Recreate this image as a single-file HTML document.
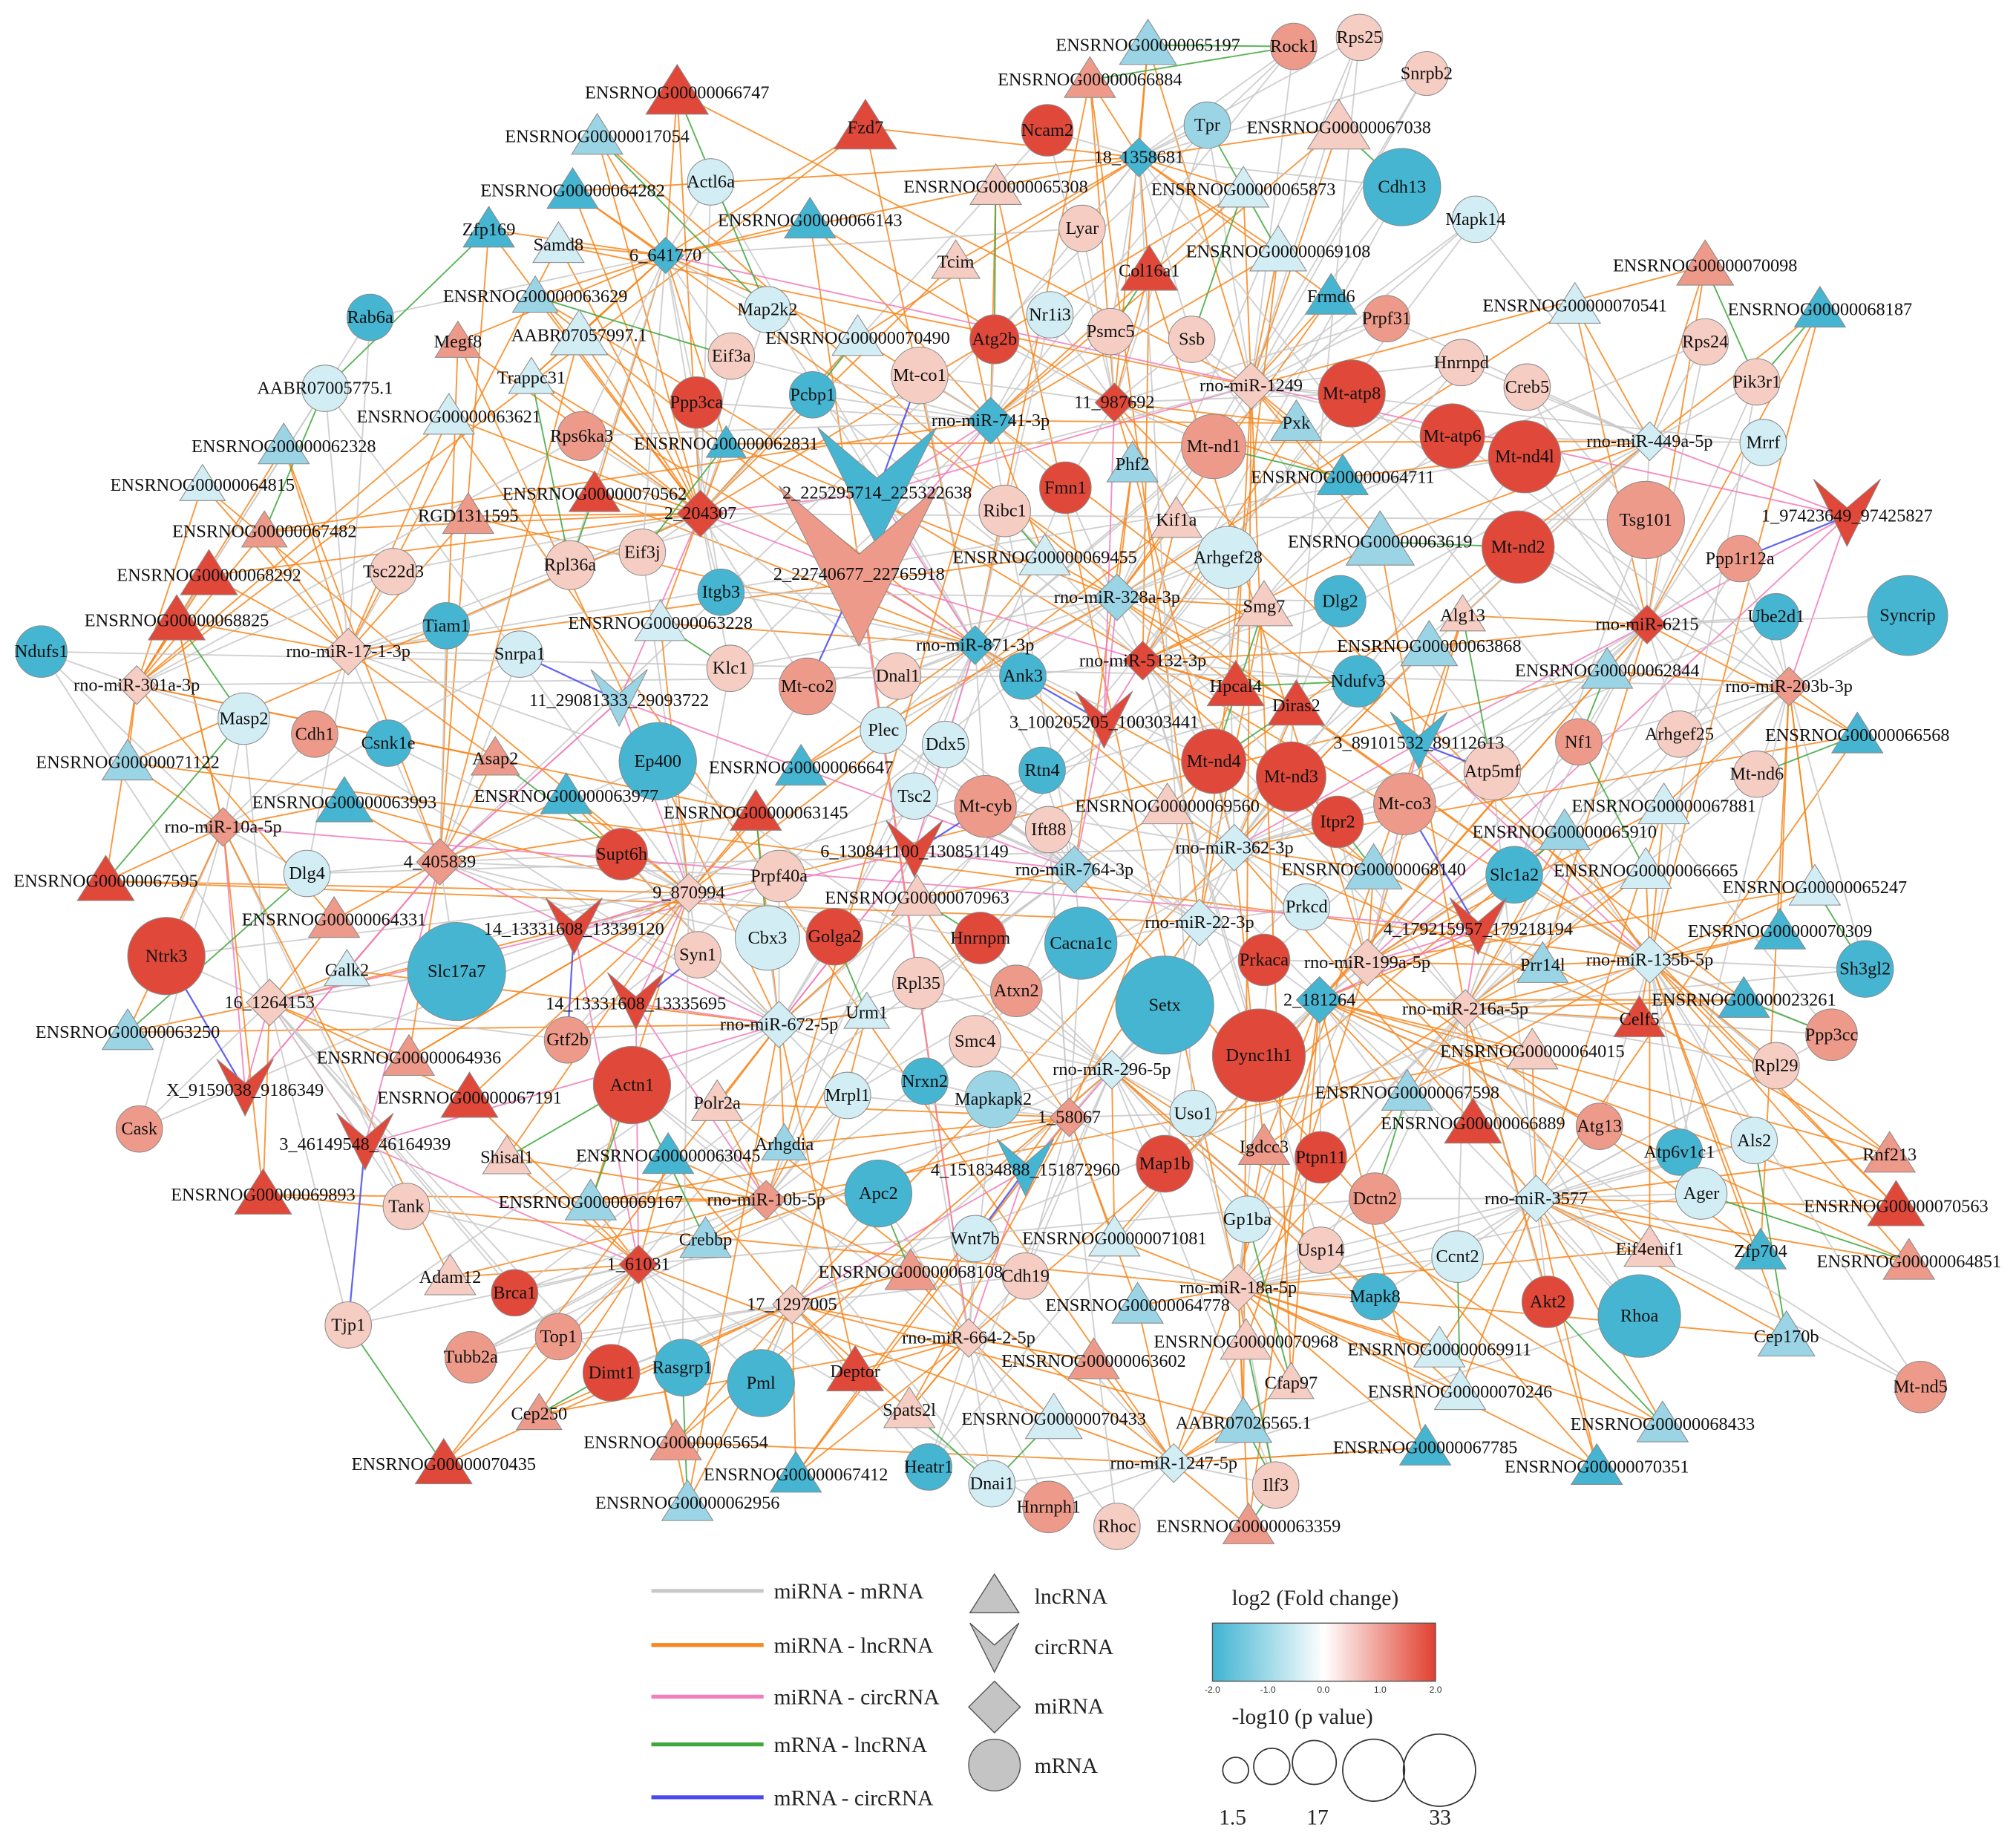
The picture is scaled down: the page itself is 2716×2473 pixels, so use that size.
<!DOCTYPE html>
<html><head><meta charset="utf-8">
<style>
html,body{margin:0;padding:0;background:#fff;}
svg{display:block;}
#labels text{font-family:"Liberation Serif",serif;font-size:14px;fill:#111;text-anchor:middle;dominant-baseline:central;}
.lg{font-family:"Liberation Serif",serif;font-size:17px;fill:#222;}
</style></head>
<body>
<svg id="s" width="2716" height="2473" viewBox="0 0 1563 1423" preserveAspectRatio="none" xmlns="http://www.w3.org/2000/svg">
<defs>
<linearGradient id="gr" x1="0" x2="1" y1="0" y2="0">
<stop offset="0" stop-color="#3fb4d2"/><stop offset="0.5" stop-color="#ffffff"/><stop offset="1" stop-color="#e0402f"/>
</linearGradient>
</defs>
<g id="edges"></g>
<g id="nodes"></g>
<g id="labels">
<text x="890" y="35" class="t b s20">ENSRNOG00000065197</text>
<text x="1003" y="36" class="c r s18">Rock1</text>
<text x="1054" y="29" class="c p s18">Rps25</text>
<text x="1106" y="57" class="c p s17">Snrpb2</text>
<text x="525" y="72" class="t R s22">ENSRNOG00000066747</text>
<text x="845" y="62" class="t r s18">ENSRNOG00000066884</text>
<text x="812" y="101" class="c R s20">Ncam2</text>
<text x="936" y="97" class="c b s18">Tpr</text>
<text x="1038" y="99" class="t p s22">ENSRNOG00000067038</text>
<text x="671" y="99" class="t R s22">Fzd7</text>
<text x="463" y="106" class="t b s18">ENSRNOG00000017054</text>
<text x="883" y="122" class="d B s15">18_1358681</text>
<text x="551" y="141" class="c q s18">Actl6a</text>
<text x="1087" y="145" class="c B s30">Cdh13</text>
<text x="772" y="145" class="t p s18">ENSRNOG00000065308</text>
<text x="964" y="147" class="t q s18">ENSRNOG00000065873</text>
<text x="444" y="148" class="t B s18">ENSRNOG00000064282</text>
<text x="839" y="177" class="c p s18">Lyar</text>
<text x="1144" y="170" class="c q s18">Mapk14</text>
<text x="379" y="178" class="t B s18">Zfp169</text>
<text x="628" y="171" class="t B s18">ENSRNOG00000066143</text>
<text x="433" y="190" class="t q s18">Samd8</text>
<text x="516" y="198" class="d B s14">6_641770</text>
<text x="741" y="203" class="t p s17">Tcim</text>
<text x="891" y="210" class="t R s20">Col16a1</text>
<text x="991" y="195" class="t q s20">ENSRNOG00000069108</text>
<text x="1322" y="206" class="t r s20">ENSRNOG00000070098</text>
<text x="415" y="230" class="t b s16">ENSRNOG00000063629</text>
<text x="595" y="240" class="c q s18">Map2k2</text>
<text x="814" y="244" class="c q s18">Nr1i3</text>
<text x="1032" y="230" class="t B s18">Frmd6</text>
<text x="1221" y="237" class="t q s18">ENSRNOG00000070541</text>
<text x="1411" y="240" class="t B s18">ENSRNOG00000068187</text>
<text x="287" y="246" class="c B s18">Rab6a</text>
<text x="355" y="265" class="t r s16">Megf8</text>
<text x="449" y="260" class="t q s20">AABR07057997.1</text>
<text x="567" y="276" class="c p s18">Eif3a</text>
<text x="665" y="262" class="t q s18">ENSRNOG00000070490</text>
<text x="771" y="263" class="c R s19">Atg2b</text>
<text x="861" y="257" class="c p s18">Psmc5</text>
<text x="924" y="263" class="c p s18">Ssb</text>
<text x="1075" y="247" class="c r s18">Prpf31</text>
<text x="1322" y="265" class="c p s18">Rps24</text>
<text x="252" y="301" class="c q s18">AABR07005775.1</text>
<text x="412" y="293" class="t q s16">Trappc31</text>
<text x="713" y="291" class="c p s22">Mt-co1</text>
<text x="1133" y="281" class="c p s18">Hnrnpd</text>
<text x="1362" y="296" class="c p s18">Pik3r1</text>
<text x="1184" y="300" class="c p s18">Creb5</text>
<text x="348" y="323" class="t q s18">ENSRNOG00000063621</text>
<text x="540" y="312" class="c R s20">Ppp3ca</text>
<text x="630" y="306" class="c B s18">Pcbp1</text>
<text x="864" y="312" class="d R s15">11_987692</text>
<text x="970" y="299" class="d p s18">rno-miR-1249</text>
<text x="1048" y="305" class="c R s26">Mt-atp8</text>
<text x="1279" y="342" class="d q s15">rno-miR-449a-5p</text>
<text x="1367" y="343" class="c q s18">Mrrf</text>
<text x="220" y="346" class="t b s18">ENSRNOG00000062328</text>
<text x="451" y="338" class="c r s19">Rps6ka3</text>
<text x="563" y="344" class="t B s14">ENSRNOG00000062831</text>
<text x="768" y="326" class="d B s18">rno-miR-741-3p</text>
<text x="941" y="346" class="c r s25">Mt-nd1</text>
<text x="1005" y="328" class="t b s18">Pxk</text>
<text x="1126" y="338" class="c R s25">Mt-atp6</text>
<text x="1182" y="354" class="c R s28">Mt-nd4l</text>
<text x="157" y="376" class="t q s16">ENSRNOG00000064815</text>
<text x="680" y="382" class="v B s46">2_225295714_225322638</text>
<text x="826" y="378" class="c R s20">Fmn1</text>
<text x="878" y="360" class="t b s18">Phf2</text>
<text x="1041" y="370" class="t B s18">ENSRNOG00000064711</text>
<text x="1276" y="403" class="c r s30">Tsg101</text>
<text x="1432" y="400" class="v R s26">1_97423649_97425827</text>
<text x="205" y="412" class="t r s16">ENSRNOG00000067482</text>
<text x="363" y="400" class="t r s18">RGD1311595</text>
<text x="461" y="383" class="t R s18">ENSRNOG00000070562</text>
<text x="543" y="398" class="d R s18">2_204307</text>
<text x="779" y="396" class="c p s20">Ribc1</text>
<text x="912" y="403" class="t p s18">Kif1a</text>
<text x="952" y="432" class="c q s24">Arhgef28</text>
<text x="1070" y="420" class="t b s24">ENSRNOG00000063619</text>
<text x="1177" y="424" class="c R s28">Mt-nd2</text>
<text x="1349" y="433" class="c r s18">Ppp1r12a</text>
<text x="162" y="446" class="t R s20">ENSRNOG00000068292</text>
<text x="305" y="443" class="c p s18">Tsc22d3</text>
<text x="442" y="438" class="c p s19">Rpl36a</text>
<text x="498" y="428" class="c p s18">Eif3j</text>
<text x="810" y="432" class="t q s18">ENSRNOG00000069455</text>
<text x="666" y="445" class="v r s62">2_22740677_22765918</text>
<text x="866" y="463" class="d b s18">rno-miR-328a-3p</text>
<text x="980" y="470" class="t p s20">Smg7</text>
<text x="1039" y="466" class="c B s20">Dlg2</text>
<text x="1134" y="477" class="t p s16">Alg13</text>
<text x="1479" y="477" class="c B s31">Syncrip</text>
<text x="1377" y="478" class="c B s18">Ube2d1</text>
<text x="137" y="481" class="t R s20">ENSRNOG00000068825</text>
<text x="346" y="485" class="c B s18">Tiam1</text>
<text x="559" y="459" class="c B s18">Itgb3</text>
<text x="512" y="483" class="t q s18">ENSRNOG00000063228</text>
<text x="270" y="505" class="d p s18">rno-miR-17-1-3p</text>
<text x="32" y="505" class="c B s20">Ndufs1</text>
<text x="403" y="507" class="c q s18">Snrpa1</text>
<text x="756" y="500" class="d B s15">rno-miR-871-3p</text>
<text x="886" y="512" class="d R s15">rno-miR-5132-3p</text>
<text x="958" y="532" class="t R s20">Hpcal4</text>
<text x="1108" y="501" class="t b s20">ENSRNOG00000063868</text>
<text x="1277" y="484" class="d R s15">rno-miR-6215</text>
<text x="1246" y="520" class="t b s18">ENSRNOG00000062844</text>
<text x="1387" y="532" class="d r s15">rno-miR-203b-3p</text>
<text x="106" y="531" class="d p s15">rno-miR-301a-3p</text>
<text x="566" y="518" class="c p s18">Klc1</text>
<text x="626" y="532" class="c r s22">Mt-co2</text>
<text x="696" y="524" class="c p s18">Dnal1</text>
<text x="793" y="524" class="c B s18">Ank3</text>
<text x="480" y="543" class="v b s22">11_29081333_29093722</text>
<text x="1005" y="547" class="t R s20">Diras2</text>
<text x="1053" y="528" class="c B s20">Ndufv3</text>
<text x="856" y="560" class="v R s22">3_100205205_100303441</text>
<text x="189" y="557" class="c q s20">Masp2</text>
<text x="244" y="569" class="c r s18">Cdh1</text>
<text x="301" y="576" class="c B s18">Csnk1e</text>
<text x="510" y="590" class="c B s30">Ep400</text>
<text x="685" y="566" class="c q s18">Plec</text>
<text x="733" y="577" class="c q s18">Ddx5</text>
<text x="808" y="597" class="c B s18">Rtn4</text>
<text x="941" y="590" class="c R s25">Mt-nd4</text>
<text x="1001" y="602" class="c R s27">Mt-nd3</text>
<text x="1100" y="576" class="v B s22">3_89101532_89112613</text>
<text x="1157" y="598" class="c p s22">Atp5mf</text>
<text x="1224" y="575" class="c r s18">Nf1</text>
<text x="1302" y="569" class="c p s18">Arhgef25</text>
<text x="1440" y="570" class="t B s18">ENSRNOG00000066568</text>
<text x="99" y="591" class="t b s18">ENSRNOG00000071122</text>
<text x="384" y="588" class="t r s17">Asap2</text>
<text x="621" y="595" class="t B s18">ENSRNOG00000066647</text>
<text x="1362" y="600" class="c p s18">Mt-nd6</text>
<text x="267" y="622" class="t B s20">ENSRNOG00000063993</text>
<text x="439" y="617" class="t B s18">ENSRNOG00000063977</text>
<text x="709" y="617" class="c q s18">Tsc2</text>
<text x="764" y="625" class="c r s24">Mt-cyb</text>
<text x="905" y="625" class="t p s18">ENSRNOG00000069560</text>
<text x="1089" y="623" class="c r s24">Mt-co3</text>
<text x="1290" y="625" class="t q s18">ENSRNOG00000067881</text>
<text x="586" y="630" class="t R s18">ENSRNOG00000063145</text>
<text x="173" y="641" class="d r s15">rno-miR-10a-5p</text>
<text x="813" y="643" class="c p s18">Ift88</text>
<text x="1037" y="637" class="c R s20">Itpr2</text>
<text x="1213" y="645" class="t b s18">ENSRNOG00000065910</text>
<text x="482" y="662" class="c R s20">Supt6h</text>
<text x="341" y="668" class="d r s18">4_405839</text>
<text x="604" y="679" class="c p s20">Prpf40a</text>
<text x="709" y="660" class="v R s22">6_130841100_130851149</text>
<text x="957" y="657" class="d q s18">rno-miR-362-3p</text>
<text x="833" y="674" class="d b s18">rno-miR-764-3p</text>
<text x="1065" y="674" class="t b s20">ENSRNOG00000068140</text>
<text x="1174" y="678" class="c B s22">Slc1a2</text>
<text x="1276" y="675" class="t q s18">ENSRNOG00000066665</text>
<text x="1407" y="688" class="t q s18">ENSRNOG00000065247</text>
<text x="82" y="683" class="t R s20">ENSRNOG00000067595</text>
<text x="238" y="677" class="c q s18">Dlg4</text>
<text x="534" y="692" class="d p s15">9_870994</text>
<text x="711" y="696" class="t p s18">ENSRNOG00000070963</text>
<text x="1013" y="703" class="c q s18">Prkcd</text>
<text x="1380" y="722" class="t B s18">ENSRNOG00000070309</text>
<text x="259" y="713" class="t r s18">ENSRNOG00000064331</text>
<text x="129" y="741" class="c R s30">Ntrk3</text>
<text x="354" y="753" class="c B s38">Slc17a7</text>
<text x="445" y="720" class="v R s22">14_13331608_13339120</text>
<text x="595" y="727" class="c q s25">Cbx3</text>
<text x="647" y="726" class="c R s22">Golga2</text>
<text x="760" y="727" class="c R s20">Hnrnpm</text>
<text x="838" y="731" class="c B s28">Cacna1c</text>
<text x="930" y="715" class="d q s18">rno-miR-22-3p</text>
<text x="1146" y="720" class="v R s22">4_179215957_179218194</text>
<text x="1060" y="746" class="d p s18">rno-miR-199a-5p</text>
<text x="1196" y="748" class="t b s18">Prr14l</text>
<text x="1279" y="744" class="d q s18">rno-miR-135b-5p</text>
<text x="1446" y="751" class="c B s22">Sh3gl2</text>
<text x="269" y="752" class="t q s16">Galk2</text>
<text x="541" y="740" class="c p s18">Syn1</text>
<text x="788" y="768" class="c r s20">Atxn2</text>
<text x="980" y="744" class="c R s20">Prkaca</text>
<text x="712" y="762" class="c p s20">Rpl35</text>
<text x="903" y="779" class="c B s38">Setx</text>
<text x="209" y="777" class="d p s18">16_1264153</text>
<text x="493" y="778" class="v R s22">14_13331608_13335695</text>
<text x="604" y="794" class="d q s18">rno-miR-672-5p</text>
<text x="672" y="785" class="t q s16">Urm1</text>
<text x="1023" y="775" class="d B s18">2_181264</text>
<text x="1136" y="782" class="d p s15">rno-miR-216a-5p</text>
<text x="1352" y="775" class="t B s18">ENSRNOG00000023261</text>
<text x="1271" y="790" class="t R s18">Celf5</text>
<text x="99" y="800" class="t b s18">ENSRNOG00000063250</text>
<text x="756" y="807" class="c p s20">Smc4</text>
<text x="1420" y="802" class="c r s20">Ppp3cc</text>
<text x="440" y="806" class="c r s18">Gtf2b</text>
<text x="317" y="820" class="t r s18">ENSRNOG00000064936</text>
<text x="976" y="818" class="c R s36">Dync1h1</text>
<text x="1188" y="815" class="t p s18">ENSRNOG00000064015</text>
<text x="1377" y="826" class="c p s18">Rpl29</text>
<text x="490" y="841" class="c R s30">Actn1</text>
<text x="190" y="845" class="v R s22">X_9159038_9186349</text>
<text x="657" y="849" class="c q s18">Mrpl1</text>
<text x="717" y="838" class="c B s18">Nrxn2</text>
<text x="770" y="852" class="c b s22">Mapkapk2</text>
<text x="862" y="829" class="d q s15">rno-miR-296-5p</text>
<text x="1091" y="847" class="t b s18">ENSRNOG00000067598</text>
<text x="108" y="875" class="c r s18">Cask</text>
<text x="364" y="851" class="t R s20">ENSRNOG00000067191</text>
<text x="556" y="855" class="t p s18">Polr2a</text>
<text x="829" y="866" class="d r s15">1_58067</text>
<text x="925" y="863" class="c q s18">Uso1</text>
<text x="1142" y="871" class="t R s20">ENSRNOG00000066889</text>
<text x="1240" y="873" class="c r s18">Atg13</text>
<text x="283" y="887" class="v R s22">3_46149548_46164939</text>
<text x="393" y="897" class="t p s17">Shisal1</text>
<text x="608" y="887" class="t b s16">Arhgdia</text>
<text x="518" y="896" class="t B s18">ENSRNOG00000063045</text>
<text x="681" y="925" class="c B s26">Apc2</text>
<text x="795" y="907" class="v B s22">4_151834888_151872960</text>
<text x="903" y="902" class="c R s22">Map1b</text>
<text x="980" y="889" class="t r s18">Igdcc3</text>
<text x="1024" y="897" class="c R s20">Ptpn11</text>
<text x="1302" y="893" class="c B s18">Atp6v1c1</text>
<text x="1360" y="884" class="c q s18">Als2</text>
<text x="1465" y="895" class="t r s18">Rnf213</text>
<text x="204" y="926" class="t R s20">ENSRNOG00000069893</text>
<text x="315" y="935" class="c p s18">Tank</text>
<text x="458" y="932" class="t b s18">ENSRNOG00000069167</text>
<text x="594" y="930" class="d r s15">rno-miR-10b-5p</text>
<text x="547" y="961" class="t b s18">Crebbp</text>
<text x="1066" y="929" class="c r s20">Dctn2</text>
<text x="1191" y="929" class="d q s18">rno-miR-3577</text>
<text x="1319" y="925" class="c q s20">Ager</text>
<text x="1470" y="935" class="t R s20">ENSRNOG00000070563</text>
<text x="967" y="945" class="c q s18">Gp1ba</text>
<text x="756" y="960" class="c q s18">Wnt7b</text>
<text x="864" y="960" class="t q s18">ENSRNOG00000071081</text>
<text x="349" y="990" class="t p s18">Adam12</text>
<text x="399" y="1002" class="c R s18">Brca1</text>
<text x="495" y="980" class="d R s15">1_61031</text>
<text x="706" y="986" class="t r s18">ENSRNOG00000068108</text>
<text x="795" y="989" class="c p s18">Cdh19</text>
<text x="1024" y="969" class="c p s18">Usp14</text>
<text x="1130" y="974" class="c q s20">Ccnt2</text>
<text x="1279" y="968" class="t p s18">Eif4enif1</text>
<text x="1365" y="970" class="t B s18">Zfp704</text>
<text x="1480" y="978" class="t r s18">ENSRNOG00000064851</text>
<text x="960" y="998" class="d p s18">rno-miR-18a-5p</text>
<text x="1066" y="1005" class="c B s18">Mapk8</text>
<text x="1200" y="1009" class="c R s20">Akt2</text>
<text x="1271" y="1020" class="c B s32">Rhoa</text>
<text x="270" y="1027" class="c p s18">Tjp1</text>
<text x="433" y="1036" class="c r s18">Top1</text>
<text x="614" y="1011" class="d p s15">17_1297005</text>
<text x="882" y="1012" class="t b s18">ENSRNOG00000064778</text>
<text x="365" y="1052" class="c r s20">Tubb2a</text>
<text x="751" y="1037" class="d p s15">rno-miR-664-2-5p</text>
<text x="966" y="1040" class="t p s18">ENSRNOG00000070968</text>
<text x="1116" y="1046" class="t q s18">ENSRNOG00000069911</text>
<text x="1385" y="1036" class="t b s20">Cep170b</text>
<text x="474" y="1064" class="c R s22">Dimt1</text>
<text x="529" y="1060" class="c B s22">Rasgrp1</text>
<text x="590" y="1072" class="c B s26">Pml</text>
<text x="663" y="1063" class="t R s20">Deptor</text>
<text x="848" y="1055" class="t r s18">ENSRNOG00000063602</text>
<text x="1001" y="1072" class="t p s16">Cfap97</text>
<text x="1132" y="1079" class="t q s18">ENSRNOG00000070246</text>
<text x="1489" y="1075" class="c r s20">Mt-nd5</text>
<text x="418" y="1096" class="t r s16">Cep250</text>
<text x="705" y="1093" class="t p s18">Spats2l</text>
<text x="817" y="1100" class="t q s20">ENSRNOG00000070433</text>
<text x="964" y="1103" class="t b s20">AABR07026565.1</text>
<text x="1289" y="1104" class="t b s18">ENSRNOG00000068433</text>
<text x="524" y="1118" class="t r s18">ENSRNOG00000065654</text>
<text x="1105" y="1122" class="t B s18">ENSRNOG00000067785</text>
<text x="344" y="1135" class="t R s20">ENSRNOG00000070435</text>
<text x="720" y="1137" class="c B s18">Heatr1</text>
<text x="910" y="1134" class="d q s15">rno-miR-1247-5p</text>
<text x="617" y="1143" class="t B s18">ENSRNOG00000067412</text>
<text x="1238" y="1137" class="t B s18">ENSRNOG00000070351</text>
<text x="769" y="1150" class="c q s18">Dnai1</text>
<text x="989" y="1151" class="c p s18">Ilf3</text>
<text x="533" y="1165" class="t b s18">ENSRNOG00000062956</text>
<text x="813" y="1168" class="c r s20">Hnrnph1</text>
<text x="866" y="1183" class="c p s18">Rhoc</text>
<text x="968" y="1183" class="t r s18">ENSRNOG00000063359</text>
</g>
<!-- legend -->
<g>
<line x1="505" y1="1233" x2="592" y2="1233" stroke="#c8c8c8" stroke-width="3"/>
<line x1="505" y1="1275" x2="592" y2="1275" stroke="#f7871e" stroke-width="3"/>
<line x1="505" y1="1315" x2="592" y2="1315" stroke="#f27cbc" stroke-width="3"/>
<line x1="505" y1="1352" x2="592" y2="1352" stroke="#3fa83d" stroke-width="3"/>
<line x1="505" y1="1393" x2="592" y2="1393" stroke="#4a4af0" stroke-width="3"/>
<text class="lg" x="600" y="1239">miRNA - mRNA</text>
<text class="lg" x="600" y="1281">miRNA - lncRNA</text>
<text class="lg" x="600" y="1321">miRNA - circRNA</text>
<text class="lg" x="600" y="1358">mRNA - lncRNA</text>
<text class="lg" x="600" y="1399">mRNA - circRNA</text>
<polygon points="771,1220 752,1250 790,1250" fill="#c4c4c4" stroke="#555" stroke-width="0.8"/>
<polygon points="752,1258 771,1275 790,1258 771,1296" fill="#c4c4c4" stroke="#555" stroke-width="0.8"/>
<polygon points="771,1303 791,1323 771,1343 751,1323" fill="#c4c4c4" stroke="#555" stroke-width="0.8"/>
<circle cx="771" cy="1368" r="20" fill="#c4c4c4" stroke="#555" stroke-width="0.8"/>
<text class="lg" x="802" y="1243">lncRNA</text>
<text class="lg" x="802" y="1282">circRNA</text>
<text class="lg" x="802" y="1328">miRNA</text>
<text class="lg" x="802" y="1374">mRNA</text>
<text class="lg" x="955" y="1244">log2 (Fold change)</text>
<rect x="940" y="1258" width="173" height="45" fill="url(#gr)" stroke="#555" stroke-width="0.8"/>
<g font-family="Liberation Sans,sans-serif" font-size="7" fill="#333" text-anchor="middle">
<text x="940" y="1312">-2.0</text><text x="983" y="1312">-1.0</text><text x="1026" y="1312">0.0</text><text x="1070" y="1312">1.0</text><text x="1113" y="1312">2.0</text>
</g>
<text class="lg" x="955" y="1336">-log10 (p value)</text>
<g fill="none" stroke="#333" stroke-width="1">
<circle cx="958" cy="1372" r="10"/><circle cx="986" cy="1369" r="14"/><circle cx="1019" cy="1366" r="17"/><circle cx="1065" cy="1372" r="24"/><circle cx="1116" cy="1372" r="28"/>
</g>
<text class="lg" x="945" y="1414">1.5</text>
<text class="lg" x="1013" y="1414">17</text>
<text class="lg" x="1108" y="1414">33</text>
</g>
</svg>
<script>
(function(){
var NS="http://www.w3.org/2000/svg";
var col={R:"#e0483a",r:"#ee9a8a",p:"#f6cdc3",B:"#45b5d2",b:"#9bd5e5",q:"#d3edf4"};
var texts=document.querySelectorAll("#labels text");
var nodes=[];
texts.forEach(function(t){
 var c=t.getAttribute("class").split(" ");
 nodes.push({x:+t.getAttribute("x"),y:+t.getAttribute("y"),type:c[0],col:col[c[1]],s:+c[2].slice(1)});
});
var ng=document.getElementById("nodes"),eg=document.getElementById("edges");
function el(n,a,p){var e=document.createElementNS(NS,n);for(var k in a)e.setAttribute(k,a[k]);p.appendChild(e);return e;}
nodes.forEach(function(n){
 var x=n.x,y=n.y,s=n.s,a={fill:n.col,stroke:"#8a8a8a","stroke-width":0.6};
 if(n.type=="c"){a.cx=x;a.cy=y;a.r=s;el("circle",a,ng);}
 else if(n.type=="t"){a.points=[x,y-s,x-s*1.1,y+s*0.75,x+s*1.1,y+s*0.75].join(",");el("polygon",a,ng);}
 else if(n.type=="d"){a.points=[x,y-s,x+s,y,x,y+s,x-s,y].join(",");el("polygon",a,ng);}
 else if(n.type=="v"){a.points=[x-s,y-s*1.1,x,y-s*0.25,x+s,y-s*1.1,x,y+s*0.9].join(",");el("polygon",a,ng);}
});
var seed=7;function rnd(){seed=(seed*16807)%2147483647;return seed/2147483647;}
var hubs=nodes.filter(function(n){return n.type=="d";});
var circs=nodes.filter(function(n){return n.type=="c";});
var tris=nodes.filter(function(n){return n.type=="t";});
function d2(a,b){return (a.x-b.x)*(a.x-b.x)+(a.y-b.y)*(a.y-b.y);}
function line(a,b,c,w){el("line",{x1:a.x,y1:a.y,x2:b.x,y2:b.y,stroke:c,"stroke-width":w||1.1,opacity:0.85},eg);}
var colr={c:"#c9c9c9",t:"#f7871e",v:"#f27cbc"};
nodes.forEach(function(n){
 if(n.type=="d")return;
 var hs=hubs.slice().sort(function(a,b){return d2(a,n)-d2(b,n);});
 var k=n.type=="v"?3:2;
 for(var i=0;i<k;i++)line(n,hs[i],colr[n.type]);
 var j=2+Math.floor(rnd()*6);line(n,hs[j],colr[n.type]);
 if(rnd()<0.5){line(n,hs[Math.floor(rnd()*hs.length)],colr[n.type]);}
});
tris.forEach(function(n){
 if(rnd()<0.55){var cs=circs.slice().sort(function(a,b){return d2(a,n)-d2(b,n);});line(n,cs[Math.floor(rnd()*4)],"#3fa83d");}
});
nodes.filter(function(n){return n.type=="v";}).forEach(function(n){
 var cs=circs.slice().sort(function(a,b){return d2(a,n)-d2(b,n);});line(n,cs[1],"#4a4af0",1.3);
});
})();
</script>
</body></html>
